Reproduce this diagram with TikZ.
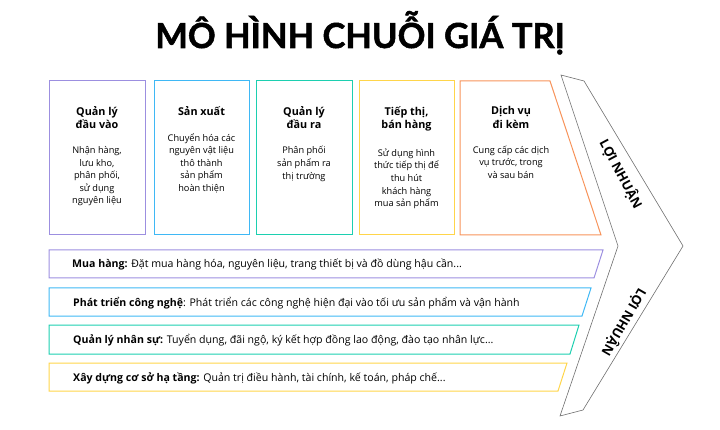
\documentclass[tikz,border=0pt]{standalone}
\usepackage{fontspec}
\setmainfont{Open Sans}
\newfontfamily\titlefont{Lato}[BoldFeatures={FakeBold=1.5}]
\usetikzlibrary{positioning}

\definecolor{cPurple}{HTML}{9C8FE0}
\definecolor{cBlue}{HTML}{3FB8F5}
\definecolor{cTeal}{HTML}{1CCFB0}
\definecolor{cYellow}{HTML}{FFD54A}
\definecolor{cOrange}{HTML}{F7935A}
\definecolor{cGrey}{HTML}{6E6E6E}

\begin{document}
\begin{tikzpicture}[x=1pt,y=-1pt,
	head/.style={font=\bfseries\fontsize{10.8}{13.3}\selectfont, align=center, inner sep=0pt, anchor=north},
	body/.style={font=\fontsize{9.2}{12.6}\selectfont, align=center, inner sep=0pt, anchor=north},
	bar/.style={font=\fontsize{10.6}{12}\selectfont, inner sep=0pt, anchor=base west},
	frame/.style={line width=1pt},
	profit/.style={font=\bfseries\fontsize{13}{13}\selectfont, inner sep=0pt}]
	\useasboundingbox (0,0) rectangle (720,430);

	\node[font=\titlefont\bfseries\fontsize{34.5}{34.5}\selectfont, anchor=base] (title) at (360,48) {MÔ HÌNH CHUỖI GIÁ TRỊ};

	% primary activities
	\draw [frame, cPurple] (49,81) rectangle (145,235);
	\draw [frame, cBlue] (154,81) rectangle (249,235);
	\draw [frame, cTeal] (256,81) rectangle (352,235);
	\draw [frame, cYellow] (359,81) rectangle (454,235);
	\draw [frame, cOrange] (460,81) -- (550,81) -- (601,235) -- (460,235) -- cycle;

	\node[head] (hd1) at (97,106.5) {Quản lý\\đầu vào};
	\node[body, below=17pt of hd1] (bd1) {Nhận hàng,\\lưu kho,\\phân phối,\\sử dụng\\nguyên liệu};
	\node[head] (hd2) at (201.5,106.5) {Sản xuất};
	\node[body, below=17pt of hd2] (bd2) {Chuyển hóa các\\nguyên vật liệu\\thô thành\\sản phẩm\\hoàn thiện};
	\node[head] (hd3) at (304,106.5) {Quản lý\\đầu ra};
	\node[body, below=17pt of hd3] (bd3) {Phân phối\\sản phẩm ra\\thị trường};
	\node[head] (hd4) at (406.5,106.5) {Tiếp thị,\\bán hàng};
	\node[body, below=17pt of hd4] (bd4) {Sử dụng hình\\thức tiếp thị để\\thu hút\\khách hàng\\mua sản phẩm};
	\node[head] (hd5) at (511,106.5) {Dịch vụ\\đi kèm};
	\node[body, below=17pt of hd5] (bd5) {Cung cấp các dịch\\vụ trước, trong\\và sau bán};

	% support activities
	\draw [frame, cPurple] (49,250) -- (603,250) -- (594,278) -- (49,278) -- cycle;
	\draw [frame, cBlue] (49,288) -- (591,288) -- (582,316) -- (49,316) -- cycle;
	\draw [frame, cTeal] (49,325) -- (579,325) -- (570,354) -- (49,354) -- cycle;
	\draw [frame, cYellow] (49,363) -- (567,363) -- (558,391) -- (49,391) -- cycle;

	\node[bar] (br1) at (72,268) {\textbf{Mua hàng:} Đặt mua hàng hóa, nguyên liệu, trang thiết bị và đồ dùng hậu cần...};
	\node[bar] (br2) at (73,306) {\textbf{Phát triển công nghệ}: Phát triển các công nghệ hiện đại vào tối ưu sản phẩm và vận hành};
	\node[bar] (br3) at (73,343.5) {\textbf{Quản lý nhân sự:} Tuyển dụng, đãi ngộ, ký kết hợp đồng lao động, đào tạo nhân lực...};
	\node[bar] (br4) at (73,381) {\textbf{Xây dựng cơ sở hạ tầng:} Quản trị điều hành, tài chính, kế toán, pháp chế...};

	% margin chevron
	\draw [cGrey, line width=0.6pt] (561,75) -- (584,81) -- (683,246) -- (583,410) -- (560,416) -- (618,246) -- cycle;
	\node[profit, rotate=-62] (pf1) at (621,174) {LỢI NHUẬN};
	\node[profit, rotate=-120] (pf2) at (624,322) {LỢI NHUẬN};
\end{tikzpicture}
\end{document}
